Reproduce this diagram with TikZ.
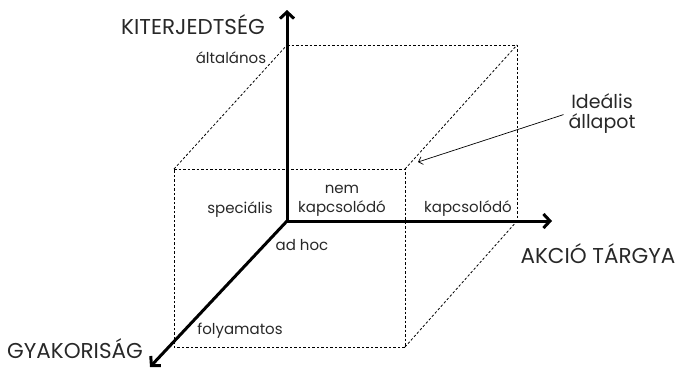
\documentclass[tikz,border=0pt]{standalone}
\usepackage{fontspec}
\setmainfont{Poppins}
\usetikzlibrary{arrows.meta}
\definecolor{txt}{RGB}{40,40,40}
\begin{document}
\begin{tikzpicture}[x=1pt,y=-1pt,
  axis/.style={line width=3pt, -{Straight Barb[length=6.5pt,width=14pt]}},
  hid/.style={line width=0.8pt, dash pattern=on 2.5pt off 2pt},
  thinarrow/.style={line width=0.7pt, -{Straight Barb[length=4pt,width=8pt]}},
  lbl/.style={font=\fontsize{15}{19}\selectfont, text=txt, inner sep=0pt},
  big/.style={font=\fontsize{21.5}{20}\selectfont, text=txt, inner sep=0pt},
  mid/.style={font=\fontsize{19}{20}\selectfont, text=txt, inner sep=0pt}]
\useasboundingbox (0,0) rectangle (676,368);
% axes points
\coordinate (O) at (287,221);
\coordinate (ytip) at (287,10);
\coordinate (xtip) at (552,221);
\coordinate (ztip) at (150,367);
% box corners
\coordinate (B1) at (287,45);
\coordinate (B2) at (517,45);
\coordinate (B3) at (517,221);
\coordinate (F1) at (174,169);
\coordinate (F2) at (405,169);
\coordinate (F3) at (405,347);
\coordinate (F4) at (174,347);
\coordinate (idealtip) at (418,162);
% hidden box edges
\draw[hid] (F1) -- (F2) -- (F3) -- (F4) -- cycle;
\draw[hid] (B1) -- (B2) -- (B3);
\draw[hid] (F1) -- (B1);
\draw[hid] (F2) -- (B2);
\draw[hid] (F3) -- (B3);
% axes
\draw[axis] (O) -- (ytip);
\draw[axis] (O) -- (xtip);
\draw[axis] (O) -- (ztip);
% labels
\node[big, anchor=base] (kit) at (193,34) {KITERJEDTSÉG};
\node[big, anchor=base] (gyak) at (75,358) {GYAKORISÁG};
\node[big, anchor=base] (akcio) at (598,263) {AKCIÓ TÁRGYA};
\node[lbl, anchor=base] (alt) at (231,63) {általános};
\node[lbl, anchor=base] (spec) at (240,213) {speciális};
\node[lbl, anchor=base, align=center] (nemk) at (342,212) {nem\\kapcsolódó};
\node[lbl, anchor=base] (kapcs) at (468,212) {kapcsolódó};
\node[lbl, anchor=base] (adhoc) at (302,250) {ad hoc};
\node[lbl, anchor=base] (foly) at (240,334) {folyamatos};
\node[mid, anchor=base, align=center] (ideal) at (602,128) {Ideális\\állapot};
\draw[thinarrow, shorten <=5pt] (ideal.west) -- (idealtip);
\end{tikzpicture}
\end{document}
